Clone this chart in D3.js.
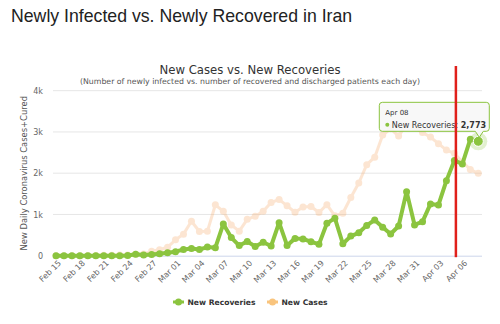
<!DOCTYPE html>
<html>
<head>
<meta charset="utf-8">
<script src="https://cdn.jsdelivr.net/npm/d3@7"></script>
<style>
  html, body { margin: 0; padding: 0; background: #fff; }
  svg { display: block; }
</style>
</head>
<body>
<div class="chart"></div>
<script>
// Daily values, Feb 15 .. Apr 08
const dates = [
  "Feb 15","Feb 16","Feb 17","Feb 18","Feb 19","Feb 20","Feb 21","Feb 22","Feb 23","Feb 24",
  "Feb 25","Feb 26","Feb 27","Feb 28","Feb 29",
  "Mar 01","Mar 02","Mar 03","Mar 04","Mar 05","Mar 06","Mar 07","Mar 08","Mar 09","Mar 10",
  "Mar 11","Mar 12","Mar 13","Mar 14","Mar 15","Mar 16","Mar 17","Mar 18","Mar 19","Mar 20",
  "Mar 21","Mar 22","Mar 23","Mar 24","Mar 25","Mar 26","Mar 27","Mar 28","Mar 29","Mar 30",
  "Mar 31","Apr 01","Apr 02","Apr 03","Apr 04","Apr 05","Apr 06","Apr 07","Apr 08"
];
const newRecoveries = [
  0,0,0,0,0,0,0,0,0,5,
  35,15,30,50,70,
  98,150,175,150,210,195,770,440,245,345,
  225,325,235,800,250,420,405,340,275,785,
  910,290,475,555,735,866,690,527,720,1553,
  745,826,1255,1230,1820,2306,2225,2825,2773
];
const newCases = [
  0,0,0,0,2,3,13,10,15,18,
  34,44,106,143,205,
  385,523,835,586,591,1234,1076,743,595,881,
  958,1075,1289,1365,1209,1053,1178,1192,1046,1237,
  966,1028,1411,1762,2206,2389,2926,3076,2901,3186,
  3110,2988,2875,2715,2560,2483,2274,2089,1997
];
const yTicks = [0, 1000, 2000, 3000, 4000];
const hoverDate = "Apr 08";
const markerDate = "Apr 05";

const W = 500, H = 324;
const plot = {left: 53, right: 482, top: 90.7, bottom: 255.7};
const green = "#8bc43f", orange = "#f7a35c";

const svg = d3.select(".chart").append("svg")
  .attr("width", W).attr("height", H)
  .style("font-family", "'DejaVu Sans', sans-serif");

const x = d3.scalePoint().domain(dates).range([56, 478.3]);
const y = d3.scaleLinear().domain([0, 4000]).range([plot.bottom, plot.top]);

// Page heading
svg.append("text").attr("x", 11).attr("y", 22)
  .style("font-family", "'Liberation Sans', Arial, sans-serif")
  .style("font-size", "17.7px").attr("fill", "#222")
  .text("Newly Infected vs. Newly Recovered in Iran");

// Chart title + subtitle
svg.append("text").attr("x", 250).attr("y", 74).attr("text-anchor", "middle")
  .style("font-size", "11.7px").attr("fill", "#333")
  .text("New Cases vs. New Recoveries");
svg.append("text").attr("x", 250).attr("y", 84).attr("text-anchor", "middle")
  .style("font-size", "7.8px").attr("fill", "#555")
  .text("(Number of newly infected vs. number of recovered and discharged patients each day)");

// Gridlines
svg.append("g").selectAll("line").data(yTicks.filter(d => d > 0)).join("line")
  .attr("x1", plot.left).attr("x2", plot.right)
  .attr("y1", d => y(d)).attr("y2", d => y(d))
  .attr("stroke", "#e6e6e6").attr("stroke-width", 1);

// Y axis
const yAxis = svg.append("g").attr("transform", "translate(" + 43 + ",0)")
  .call(d3.axisLeft(y).tickValues(yTicks).tickSize(0).tickPadding(0)
    .tickFormat(d => d === 0 ? "0" : (d / 1000) + "k"));
yAxis.select(".domain").remove();
yAxis.selectAll("text").style("font-size", "8px").attr("fill", "#666")
  .style("font-family", "'DejaVu Sans', sans-serif");

svg.append("text")
  .attr("transform", "translate(27," + (plot.top + plot.bottom) / 2 + ") rotate(-90)")
  .attr("text-anchor", "middle").style("font-size", "8.4px").attr("fill", "#555")
  .text("New Daily Coronavirus Cases+Cured");

// X axis
svg.append("line").attr("x1", plot.left).attr("x2", plot.right)
  .attr("y1", plot.bottom + 0.5).attr("y2", plot.bottom + 0.5)
  .attr("stroke", "#ccd6eb").attr("stroke-width", 1);
const xAxis = svg.append("g").attr("transform", "translate(0," + (plot.bottom + 5) + ")")
  .call(d3.axisBottom(x).tickValues(dates.filter((d, i) => i % 3 === 0)).tickSize(0).tickPadding(0));
xAxis.select(".domain").remove();
xAxis.selectAll("text")
  .style("font-size", "8px").attr("fill", "#666")
  .style("font-family", "'DejaVu Sans', sans-serif")
  .style("text-anchor", "end")
  .attr("dx", "0.2em").attr("dy", "0.7em")
  .attr("transform", "rotate(-45)");

// Series
const line = d3.line().x((d, i) => x(dates[i])).y(d => y(d));

const casesG = svg.append("g").attr("opacity", 0.27);
casesG.append("path").datum(newCases).attr("d", line)
  .attr("fill", "none").attr("stroke", orange).attr("stroke-width", 3)
  .attr("stroke-linejoin", "round");
casesG.selectAll("circle").data(newCases).join("circle")
  .attr("cx", (d, i) => x(dates[i])).attr("cy", d => y(d)).attr("r", 3.5)
  .attr("fill", orange);

const recG = svg.append("g");
recG.append("path").datum(newRecoveries).attr("d", line)
  .attr("fill", "none").attr("stroke", green).attr("stroke-width", 4)
  .attr("stroke-linejoin", "round");
recG.selectAll("circle").data(newRecoveries).join("circle")
  .attr("cx", (d, i) => x(dates[i])).attr("cy", d => y(d)).attr("r", 3.5)
  .attr("fill", green);

// Hovered point
const hi = dates.indexOf(hoverDate);
const hx = x(hoverDate), hy = y(newRecoveries[hi]);
svg.append("circle").attr("cx", hx).attr("cy", hy).attr("r", 9)
  .attr("fill", green).attr("opacity", 0.25);
svg.append("circle").attr("cx", hx).attr("cy", hy).attr("r", 5)
  .attr("fill", green).attr("stroke", "#fff").attr("stroke-width", 1);

// Tooltip
const tt = svg.append("g");
const bl = hx - 99, br = hx + 11, bt = hy - 39, bb = hy - 10;
tt.append("path")
  .attr("d", `M${bl + 3},${bt} L${br - 3},${bt} Q${br},${bt} ${br},${bt + 3} L${br},${bb - 3} Q${br},${bb} ${br - 3},${bb}
    L${hx + 5},${bb} L${hx + 1},${hy - 4} L${hx - 3},${bb} L${bl + 3},${bb} Q${bl},${bb} ${bl},${bb - 3}
    L${bl},${bt + 3} Q${bl},${bt} ${bl + 3},${bt} Z`)
  .attr("fill", "rgba(247,247,247,0.9)").attr("stroke", green).attr("stroke-width", 1);
tt.append("text").attr("x", bl + 6).attr("y", bt + 13)
  .style("font-size", "7px").attr("fill", "#333").text(hoverDate);
tt.append("circle").attr("cx", bl + 8).attr("cy", bt + 22.5).attr("r", 2).attr("fill", green);
const tl = tt.append("text").attr("x", bl + 12.5).attr("y", bt + 25.5)
  .style("font-size", "8px").attr("fill", "#333");
tl.append("tspan").text("New Recoveries: ");
tl.append("tspan").style("font-weight", "bold").text(d3.format(",")(newRecoveries[hi]));

// Red annotation line
svg.append("line").attr("x1", x(markerDate) + 1.5).attr("x2", x(markerDate) + 1.5)
  .attr("y1", 66).attr("y2", plot.bottom + 1.5)
  .attr("stroke", "#e0201b").attr("stroke-width", 2.5);

// Legend
const legend = [
  {name: "New Recoveries", color: green, x: 173},
  {name: "New Cases", color: "#f9c47d", x: 267}
];
const lg = svg.append("g").selectAll("g").data(legend).join("g")
  .attr("transform", d => "translate(" + d.x + ",302)");
lg.append("line").attr("x1", 0).attr("x2", 11).attr("y1", 0).attr("y2", 0)
  .attr("stroke", d => d.color).attr("stroke-width", 3);
lg.append("circle").attr("cx", 5.5).attr("cy", 0).attr("r", 3.5).attr("fill", d => d.color);
lg.append("text").attr("x", 14.5).attr("y", 2.8)
  .style("font-size", "7.6px").style("font-weight", "bold").attr("fill", "#333")
  .text(d => d.name);
</script>
</body>
</html>
